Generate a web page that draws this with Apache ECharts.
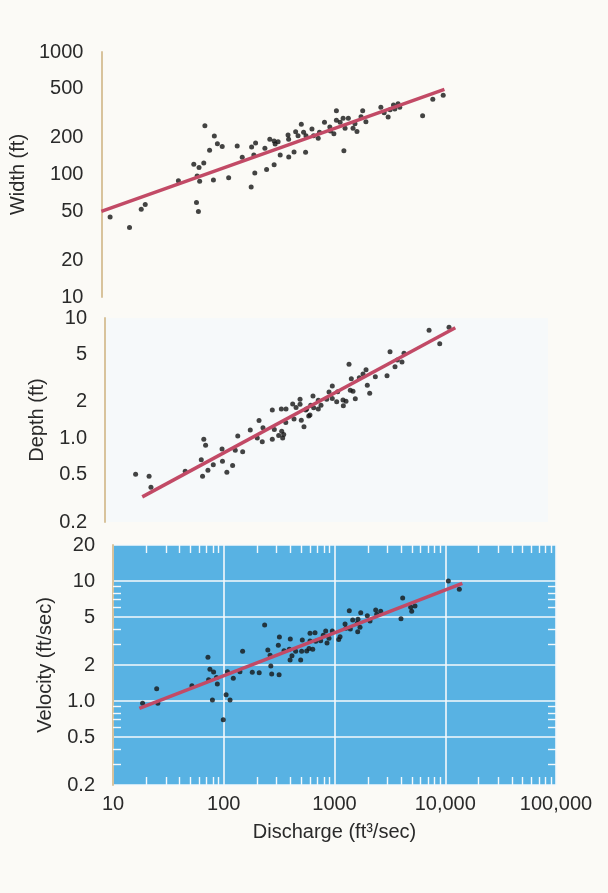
<!DOCTYPE html>
<html><head><meta charset="utf-8">
<script src="https://cdn.jsdelivr.net/npm/echarts@6/dist/echarts.min.js"></script>
<style>html,body{margin:0;padding:0;background:#fbfaf6}#c{width:608px;height:893px}</style>
</head><body><div id="c"></div>
<script>
// ---- tick labels ----
const xTicks = [10, 100, 1000, 10000, 100000];
const xMinor = [20,30,40,50,60,70,80,90,200,300,400,500,600,700,800,900,2000,3000,4000,5000,6000,7000,8000,9000,20000,30000,40000,50000,60000,70000,80000,90000];
const widthTicks = [10, 20, 50, 100, 200, 500, 1000];
const depthTicks = [0.2, 0.5, 1, 2, 5, 10];
const velTicks = [0.2, 0.5, 1, 2, 5, 10, 20];
const velMinor = [0.3,0.4,0.6,0.7,0.8,0.9,3,4,6,7,8,9];

// ---- width panel ----
const widthQ = [12,18,23,25,50,69,77,85,74,78,73,76,87,106,113,125,96,104,143,171,190,231,251,242,229,247,305,316,338,370,402,378,370,420,502,495,501,561,580,610,653,685,714,720,816,844,930,955,1060,1185,1200,1290,1360,1360,1470,1565,1590,1630,1745,1925,2005,2090,2275,2356,2520,3445,3690,4010,4180,4485,4610,4935,5110,8245,10200,12680];
const widthVal = [45,37,52,57,89,121,114,124,97,88,59,50,250,206,178,169,158,90,94,171,138,168,181,144,79,103,164,110,194,188,185,177,120,144,139,210,194,153,223,207,257,221,152,207,235,207,198,221,267,244,226,215,332,277,267,288,156,238,288,238,260,224,296,332,270,354,319,295,338,369,342,378,354,302,411,443];
const widthFitQ = [10, 13000];
const widthFit = [50, 495];

// ---- depth panel ----
const depthQ = [18.9,25,26,53,74,78,81,76,85,95,114,115,126,142,150,158,175,205,237,246,263,267,324,324,338,370,391,394,402,411,429,431,495,509,577,577,592,626,649,691,531,662,709,720,755,766,843,843,892,1004,1054,1128,1128,1236,1262,1409,1419,1500,1597,1640,1675,1735,1820,1978,2137,2275,2336,2455,2760,3520,3745,4155,4360,4805,5010,8435,10530,12770];
const depthVal = [0.50,0.48,0.39,0.53,0.66,0.98,0.87,0.48,0.54,0.60,0.81,0.64,0.52,0.59,0.79,1.04,0.77,1.17,1.0,1.40,0.93,1.22,1.71,0.98,1.18,1.05,1.75,1.14,1.0,1.07,1.35,1.75,1.92,1.44,2.11,1.91,1.41,1.24,1.71,1.53,1.80,1.75,1.56,1.88,2.24,1.79,1.75,2.07,1.88,2.11,2.42,2.71,2.14,2.01,2.43,2.08,1.86,2.03,4.11,2.50,3.12,2.46,2.13,3.18,3.41,3.70,2.75,2.36,3.24,3.31,5.24,3.93,4.47,4.30,5.08,7.90,6.11,8.37];
const depthFitQ = [21.7, 14560];
const depthFit = [0.324, 8.3];

// ---- velocity panel ----
const velQ = [18.5,24.8,25.4,51.6,72,75,81,73,87.5,86,79,105,114,99,108,122,140,148,181,209,234,250,262,266,271,316,311,318,350,391,399,397,413,446,495,505,512,561,589,601,601,636,667,677,750,792,833,856,892,955,1091,1122,1245,1270,1360,1390,1460,1620,1606,1630,1700,1725,1978,2093,2356,2404,2614,3985,4125,4875,4980,5330,10670,13400];
const velVal = [0.96,1.27,0.96,1.34,2.32,1.84,1.75,1.51,1.39,1.57,1.02,1.13,1.02,0.70,1.76,1.55,1.76,2.60,1.74,1.72,4.31,2.67,2.41,1.96,1.68,1.66,2.92,3.42,2.63,2.70,3.30,2.20,2.39,2.60,2.20,2.60,3.23,2.62,2.75,3.67,3.17,2.70,3.72,3.15,3.19,3.54,3.84,3.05,3.34,3.84,3.27,3.44,4.39,4.05,5.67,3.99,4.74,3.79,4.45,4.81,4.12,5.46,5.15,4.65,5.74,5.29,5.60,4.86,7.23,6.05,5.60,6.21,10.0,8.55];
const velFitQ = [17.3, 14260];
const velFit = [0.871, 9.59];

const zip = (a, b) => a.map((v, i) => [v, b[i]]);

const FONT = 'Liberation Sans';
const labelStyle = { color: '#2a2a2a', fontSize: 20, fontFamily: FONT };
const nameStyle = { color: '#2a2a2a', fontSize: 20, fontFamily: FONT };
const yFmt = v => (Math.abs(v - 1) < 1e-9 ? '1.0' : String(+v.toPrecision(6)));
const xFmt = v => { const r = Math.round(v); return r >= 10000 ? r.toLocaleString('en-US') : String(r); };
const TAN = '#d8c39c';
const BLUE = '#58b2e3';
const WHITE = '#f4f8fb';

const grids = [
  { left: 99, top: 52, width: 443, height: 245, show: false },
  { left: 105, top: 318, width: 443, height: 204, show: true, backgroundColor: '#f6f9fa', borderWidth: 0 },
  { left: 113, top: 545, width: 443, height: 240, show: true, backgroundColor: BLUE, borderWidth: 0 }
];

const hiddenX = gi => ({
  type: 'log', logBase: 10, min: 10, max: 100000, gridIndex: gi,
  axisLine: { show: false }, axisTick: { show: false }, axisLabel: { show: false }, splitLine: { show: false }
});

const minorTick = vals => ({ show: true, inside: true, length: 8, customValues: vals, lineStyle: { color: WHITE, width: 1.4 } });

const xAxes = [
  hiddenX(0),
  hiddenX(1),
  {
    type: 'log', logBase: 10, min: 10, max: 100000, gridIndex: 2,
    name: 'Discharge (ft³/sec)', nameLocation: 'middle', nameGap: 37, nameTextStyle: nameStyle,
    axisLine: { show: false },
    axisTick: { show: false, customValues: xTicks },
    axisLabel: { ...labelStyle, margin: 9, customValues: xTicks, formatter: xFmt },
    splitLine: { show: true, lineStyle: { color: WHITE, width: 1.6 } }
  },
  {
    type: 'log', logBase: 10, min: 10, max: 100000, gridIndex: 2, position: 'bottom',
    axisLine: { show: false }, axisLabel: { show: false }, splitLine: { show: false },
    axisTick: minorTick(xMinor)
  },
  {
    type: 'log', logBase: 10, min: 10, max: 100000, gridIndex: 2, position: 'top',
    axisLine: { show: false }, axisLabel: { show: false }, splitLine: { show: false },
    axisTick: minorTick(xMinor)
  }
];

const mainY = (gi, min, max, ticks, name, opts) => ({
  type: 'log', logBase: 10, min, max, gridIndex: gi,
  name, nameLocation: 'middle', nameGap: 58, nameTextStyle: nameStyle,
  axisLine: { show: true, lineStyle: { color: TAN, width: 2 } },
  axisTick: { show: false, customValues: ticks },
  axisLabel: { ...labelStyle, margin: 18, customValues: ticks, formatter: yFmt },
  splitLine: opts.split ? { show: true, lineStyle: { color: WHITE, width: 1.6 } } : { show: false }
});

const minorY = (pos) => ({
  type: 'log', logBase: 10, min: 0.2, max: 20, gridIndex: 2, position: pos,
  axisLine: { show: false }, axisLabel: { show: false }, splitLine: { show: false },
  axisTick: minorTick(velMinor)
});

const yAxes = [
  mainY(0, 10, 1000, widthTicks, 'Width (ft)', {}),
  mainY(1, 0.2, 10, depthTicks, 'Depth (ft)', {}),
  mainY(2, 0.2, 20, velTicks, 'Velocity (ft/sec)', { split: true }),
  minorY('left'),
  minorY('right')
];

const dot = (xi, yi, data) => ({
  type: 'scatter', xAxisIndex: xi, yAxisIndex: yi, data,
  symbolSize: 5, itemStyle: { color: '#151515' }, z: 3
});
const fit = (xi, yi, data) => ({
  type: 'line', xAxisIndex: xi, yAxisIndex: yi, data, symbol: 'none',
  lineStyle: { color: '#c24a66', width: 3.5 }, z: 4, silent: true
});

const chart = echarts.init(document.getElementById('c'), null, { renderer: 'canvas' });
chart.setOption({
  backgroundColor: '#fbfaf6',
  animation: false,
  grid: grids,
  xAxis: xAxes,
  yAxis: yAxes,
  series: [
    dot(0, 0, zip(widthQ, widthVal)), fit(0, 0, zip(widthFitQ, widthFit)),
    dot(1, 1, zip(depthQ, depthVal)), fit(1, 1, zip(depthFitQ, depthFit)),
    dot(2, 2, zip(velQ, velVal)), fit(2, 2, zip(velFitQ, velFit))
  ]
});
</script>
</body></html>
